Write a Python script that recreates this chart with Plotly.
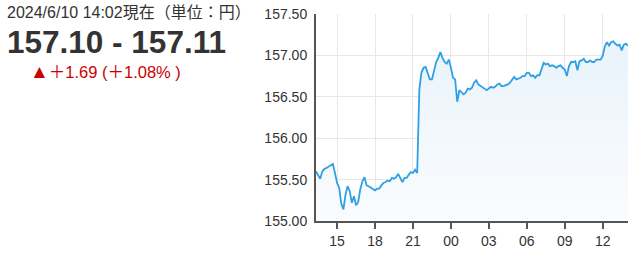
import pandas as pd
import plotly.graph_objects as go

# 10-minute samples from 2024-06-07 13:20 to 2024-06-08 14:00 (JST)
start_time = "2024-06-07 13:20"
prices = [
    155.60, 155.56, 155.51, 155.60, 155.63, 155.64, 155.66, 155.67, 155.69, 155.58,
    155.46, 155.40, 155.21, 155.14, 155.32, 155.42, 155.36, 155.22, 155.30, 155.19,
    155.23, 155.38, 155.48, 155.53, 155.43, 155.42, 155.40, 155.38, 155.37, 155.39,
    155.39, 155.43, 155.46, 155.47, 155.49, 155.48, 155.52, 155.51, 155.53, 155.57,
    155.51, 155.47, 155.52, 155.52, 155.56, 155.59, 155.58, 155.62, 155.58, 156.58,
    156.79, 156.85, 156.86, 156.79, 156.71, 156.71, 156.82, 156.92, 156.97, 157.04,
    156.97, 156.92, 156.90, 156.95, 156.85, 156.73, 156.71, 156.44, 156.58, 156.56,
    156.53, 156.55, 156.60, 156.59, 156.61, 156.67, 156.70, 156.65, 156.63, 156.62,
    156.60, 156.58, 156.60, 156.62, 156.61, 156.62, 156.65, 156.66, 156.63, 156.63,
    156.64, 156.65, 156.67, 156.71, 156.74, 156.71, 156.72, 156.73, 156.75, 156.75,
    156.79, 156.79, 156.75, 156.76, 156.73, 156.76, 156.76, 156.85, 156.91, 156.89,
    156.90, 156.87, 156.88, 156.87, 156.85, 156.87, 156.88, 156.85, 156.83, 156.75,
    156.87, 156.92, 156.92, 156.93, 156.82, 156.93, 156.94, 156.96, 156.92, 156.92,
    156.94, 156.92, 156.92, 156.95, 156.95, 156.95, 156.99, 157.11, 157.16, 157.12,
    157.16, 157.17, 157.14, 157.12, 157.13, 157.06, 157.13, 157.14, 157.12,
]
y_ticks = [155.00, 155.50, 156.00, 156.50, 157.00, 157.50]

header_text = "2024/6/10 14:02現在（単位：円）"
quote_text = "157.10 - 157.11"
change_mark = "▲"
change_text = "＋1.69 (＋1.08% )"

times = pd.date_range(start=start_time, periods=len(prices), freq="10min")

fig = go.Figure()
fig.add_trace(go.Scatter(
    x=times, y=prices, mode="lines",
    line=dict(color="#2fa0e4", width=1.8),
    fill="tozeroy",
    fillgradient=dict(type="vertical", start=155.0, stop=157.2,
                      colorscale=[[0, "#fafcfe"], [1, "#e9f3fb"]]),
    hoverinfo="skip",
))

W, H, L, R, T, B = 634, 254, 316, 6, 14, 33
pw = W - L - R
ph = H - T - B

def px(x):
    return (x - L) / pw

def py(y):
    return 1 - (y - T) / ph

font_fam = "Liberation Sans, Arial, Noto Sans CJK JP"

fig.update_layout(
    width=W, height=H,
    margin=dict(l=L, r=R, t=T, b=B),
    paper_bgcolor="white", plot_bgcolor="white",
    showlegend=False,
    font=dict(family=font_fam, size=14, color="#333333"),
    xaxis=dict(
        range=[times[0], times[-1]],
        type="date", tickformat="%H", dtick=3 * 3600 * 1000,
        tick0="2024-06-07 00:00",
        showgrid=True, gridcolor="#e8e8e8", gridwidth=1,
        showline=True, linecolor="#555555", linewidth=2,
        ticks="outside", ticklen=6, tickwidth=2, tickcolor="#555555",
        tickfont=dict(size=14, color="#333333"),
        zeroline=False,
    ),
    yaxis=dict(
        range=[155.0, 157.5],
        tickvals=y_ticks, ticktext=[f"{v:.2f}" for v in y_ticks],
        showgrid=True, gridcolor="#e8e8e8", gridwidth=1,
        showline=True, linecolor="#555555", linewidth=2,
        ticks="outside", ticklen=4, tickcolor="rgba(0,0,0,0)",
        tickfont=dict(size=14, color="#333333"),
        zeroline=False,
    ),
)

fig.add_annotation(xref="paper", yref="paper", x=px(5), y=py(13),
                   xanchor="left", yanchor="middle", text=header_text,
                   showarrow=False, font=dict(family=font_fam, size=16, color="#333333"))
fig.add_annotation(xref="paper", yref="paper", x=px(5), y=py(42.5),
                   xanchor="left", yanchor="middle", text=f"<b>{quote_text}</b>",
                   showarrow=False, font=dict(family=font_fam, size=31.5, color="#333333"))
fig.add_annotation(xref="paper", yref="paper", x=px(28), y=py(71),
                   xanchor="left", yanchor="middle",
                   text=f"<span style='font-size:19px'>{change_mark}</span>{change_text}",
                   showarrow=False, font=dict(family=font_fam, size=16.5, color="#cc0000"))

fig.write_html("out.html")
